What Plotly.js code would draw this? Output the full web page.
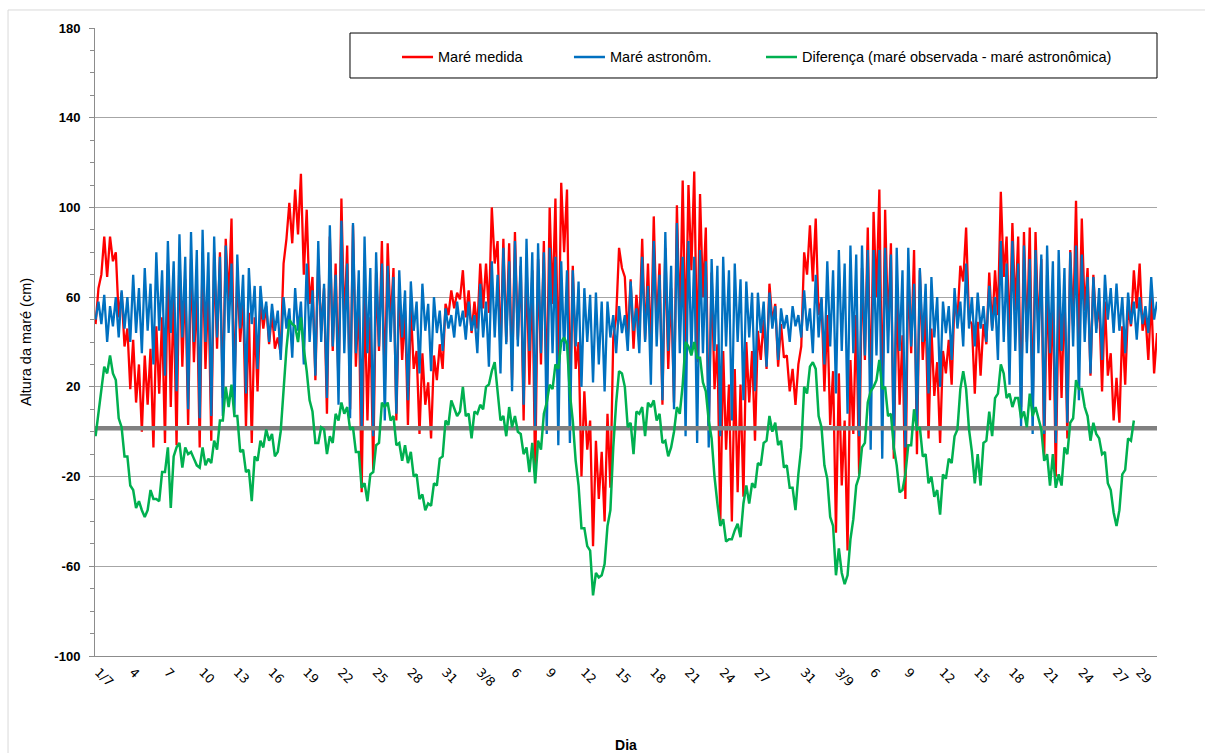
<!DOCTYPE html>
<html><head><meta charset="utf-8">
<script src="https://cdn.plot.ly/plotly-3.0.1.min.js"></script>
<style>html,body{margin:0;padding:0;background:#fff}#chart{width:1205px;height:753px}</style>
</head><body><div id="chart"></div>
<script>
// time base: days since 1/7 00:00, one reading every 6 hours
const seriesStartDay = -0.25;
const seriesStepDays = 0.25;

// Maré medida (cm)
const measuredTide = [48,
64,70,87,69, 87,76,80,51, 62,38,46,19, 41,13,30,0, 34,12,37,-7,
47,17,51,-5, 75,11,62,-6, 80,29,68,3, 77,31,63,-7, 80,28,65,-4,
80,37,80,15, 86,58,95,18, 72,40,59,2, 53,-5,51,18, 58,46,56,39,
53,37,42,35, 75,86,102,84, 108,88,115,70, 99,57,69,23, 77,45,64,8,
87,36,75,20, 104,46,83,10, 92,29,60,-27, 61,5,51,-17, 71,36,85,19,
84,48,73,5, 64,32,54,3, 55,28,36,-1, 35,12,22,-3, 34,23,39,28,
57,52,63,55, 62,59,72,51, 63,44,58,46, 75,55,75,53, 100,75,85,34,
86,40,84,23, 89,41,74,5, 76,21,72,-21, 77,30,85,15, 100,57,104,25,
111,80,108,15, 74,28,40,-20, 18,-8,5,-51, -4,-30,-9,-40, 8,-25,42,51,
82,73,69,41, 68,37,61,46, 86,41,75,35, 96,46,75,12, 82,28,64,13,
101,46,112,39, 110,72,116,31, 106,60,91,1, 71,19,39,-41, 36,-8,21,-40,
28,-27,21,-29, 40,13,36,-4, 45,32,50,28, 66,49,57,29, 48,33,34,18,
28,12,30,38, 80,70,92,67, 95,52,59,18, 52,3,27,-45, 26,-24,5,-53,
32,-1,52,-19, 73,32,91,13, 98,60,108,10, 99,45,84,-12, 64,12,43,-30,
73,35,81,-10, 72,32,53,-3, 46,16,31,-5, 36,26,41,21, 59,50,74,67,
91,50,48,17, 49,25,48,39, 71,46,72,52, 107,69,87,41, 93,54,87,11,
89,40,91,9, 89,44,77,-11, 70,14,63,-20, 59,15,63,-3, 81,47,103,36,
95,54,73,25, 70,46,58,18, 58,25,35,5, 24,4,47,21, 56,47,72,55,
75,45,52,32, 60,26,44];

// Maré astronômica (cm)
const astronomicalTide = [50,
58,48,61,40, 56,47,60,42, 63,46,60,40, 70,44,64,35, 73,45,66,30,
80,45,72,25, 85,44,76,18, 88,42,78,10, 89,40,81,6, 90,40,80,7,
87,42,78,7, 83,44,75,8, 79,46,70,17, 73,48,65,28, 65,50,58,40,
57,45,54,32, 60,46,55,33, 64,45,58,30, 75,40,63,25, 85,40,66,15,
92,38,70,12, 94,35,75,6, 93,35,72,1, 87,35,73,-2, 80,38,75,5,
74,40,69,8, 72,42,63,14, 67,45,58,26, 66,45,57,27, 60,44,54,36,
55,46,52,42, 58,47,54,41, 58,45,52,35, 66,42,58,29, 76,42,70,26,
82,39,76,18, 85,38,78,12, 86,36,80,2, 84,35,80,-1, 82,35,78,-6,
76,36,72,-5, 72,38,67,20, 64,40,61,22, 62,30,58,18, 58,42,52,35,
56,44,52,36, 67,45,55,35, 78,40,65,21, 85,38,70,14, 89,36,74,10,
93,35,78,-2, 85,35,78,-5, 81,35,76,-7, 77,36,74,-2, 78,38,72,5,
75,40,68,14, 67,42,62,18, 62,44,58,29, 62,46,56,32, 55,46,52,40,
56,47,52,42, 63,45,55,35, 70,42,60,30, 76,38,72,17, 81,36,75,8,
83,35,79,-2, 83,34,81,-8, 81,34,81,-12, 82,35,79,-8, 82,36,72,-7,
82,38,66,2, 73,40,66,17, 69,42,60,20, 58,44,56,32, 64,46,58,38,
75,46,60,38, 62,46,56,40, 65,45,60,32, 85,40,75,21, 85,36,75,2,
83,35,77,-1, 81,35,79,-1, 83,35,76,-5, 81,36,73,4, 80,38,83,14,
79,40,69,26, 69,44,64,32, 70,50,64,44, 66,45,60,35, 62,48,58,41,
60,48,56,44, 69,50,58];

// Diferença (maré observada - maré astronômica) (cm)
const tideDifference = [-2,
9,19,29,26, 34,26,23,6, 2,-11,-11,-24, -26,-34,-31,-35, -38,-35,-26,-30,
-30,-31,-18,-18, -7,-34,-11,-7, -5,-16,-7,-10, -9,-12,-15,-16, -7,-15,-12,-14,
-4,-8,5,5, 20,11,21,7, 7,-9,-8,-18, -17,-31,-11,-13, -4,-7,1,-4,
-1,-11,-9,0, 18,37,50,48, 47,40,51,37, 27,14,9,-5, -5,2,1,-10,
-2,-5,8,5, 13,8,11,1, 2,-9,-9,-25, -23,-31,-19,-18, -6,-5,13,11,
13,5,7,-6, -5,-13,-6,-14, -9,-20,-19,-30, -28,-35,-32,-33, -23,-24,-12,-11,
5,3,14,10, 7,9,20,7, 8,-3,9,8, 12,10,20,21, 27,31,18,5,
7,-2,11,2, 7,0,-1,-10, -7,-18,-5,-23, -4,-8,8,13, 21,19,30,28,
40,42,39,17, 5,-13,-24,-43, -43,-51,-53,-73, -63,-65,-64,-59, -42,-35,-7,13,
27,26,20,2, 4,-10,9,8, 11,-2,13,11, 14,5,8,-5, -4,-11,-7,0,
11,8,21,40, 38,34,40,33, 33,22,18,5, -3,-20,-32,-42, -39,-49,-48,-48,
-44,-41,-47,-32, -24,-32,-23,-25, -14,-15,-5,-4, 7,0,4,-6, -4,-16,-15,-25,
-25,-35,-19,-7, 20,17,29,31, 28,7,2,-15, -21,-38,-42,-64, -52,-63,-68,-64,
-48,-39,-24,-20, -7,-5,13,18, 20,23,32,19, 20,7,8,-7, -15,-27,-26,-19,
-6,-6,10,1, 2,-11,-10,-23, -20,-29,-26,-37, -19,-21,-12,-14, -2,1,19,27,
19,1,-9,-23, -10,-24,-5,-4, 9,-2,15,17, 30,26,15,17, 11,15,15,6,
9,2,17,7, 11,6,1,-13, -10,-24,-10,-25, -19,-24,-7,-10, 4,6,23,19,
19,11,7,-4, 4,-1,-3,-10, -9,-23,-26,-36, -42,-35,-19,-17, -3,-4,5];

const referenceLevel = 1.5;
const xRangeDays = [-0.3, 91.5];

const xTickDays = [0,3,6,9,12,15,18,21,24,27,30,33,36,39,42,45,48,51,54,57,61,64,67,70,73,76,79,82,85,88,90];
const xTickLabels = ['1/7','4','7','10','13','16','19','22','25','28','31','3/8','6','9','12','15','18','21','24','27','31','3/9','6','9','12','15','18','21','24','27','29'];
const yTickValues = [-100,-60,-20,20,60,100,140,180];
const yTickLabels = ['-100','-60','-20','20','60','100','140','180'];
const seriesNames = ['Maré medida','Maré astronôm.','Diferença (maré observada - maré astronômica)'];
const seriesColors = ['#FF0000','#0070C0','#00B050'];

const timesFor = arr => arr.map((_, i) => seriesStartDay + i * seriesStepDays);

const traces = [
  {x: timesFor(measuredTide), y: measuredTide, type:'scatter', mode:'lines', name: seriesNames[0],
   line:{color: seriesColors[0], width:2.3}, showlegend:false, hoverinfo:'skip'},
  {x: timesFor(astronomicalTide), y: astronomicalTide, type:'scatter', mode:'lines', name: seriesNames[1],
   line:{color: seriesColors[1], width:2.3}, showlegend:false, hoverinfo:'skip'},
  {x: xRangeDays, y: [referenceLevel, referenceLevel], type:'scatter', mode:'lines',
   line:{color:'#808080', width:4.5}, showlegend:false, hoverinfo:'skip'},
  {x: timesFor(tideDifference), y: tideDifference, type:'scatter', mode:'lines', name: seriesNames[2],
   line:{color: seriesColors[2], width:2.5}, showlegend:false, hoverinfo:'skip'}
];

// legend box (drawn as shapes + text), positions in paper units
const legendItems = [
  {x0:0.2891, x1:0.3183, tx:0.3210},
  {x0:0.4510, x1:0.4802, tx:0.4829},
  {x0:0.6318, x1:0.6610, tx:0.6637}
];
const legendY = 0.9538;
const shapes = [
  {type:'rect', xref:'paper', yref:'paper', x0:-0.0819, x1:1.08, y0:-0.2, y1:1.0287,
   line:{color:'#d9d9d9', width:1}, fillcolor:'rgba(0,0,0,0)', layer:'below'},
  {type:'rect', xref:'paper', yref:'paper', x0:0.2401, x1:1.0, y0:0.9204, y1:0.9920,
   line:{color:'#000000', width:1}, fillcolor:'#ffffff', layer:'above'}
];
const annotations = [];
legendItems.forEach((it, i) => {
  shapes.push({type:'line', xref:'paper', yref:'paper', x0:it.x0, x1:it.x1, y0:legendY, y1:legendY,
    line:{color: seriesColors[i], width:2.5}, layer:'above'});
  annotations.push({xref:'paper', yref:'paper', x:it.tx, y:legendY, xanchor:'left', yanchor:'middle',
    text: seriesNames[i], showarrow:false, font:{family:'Liberation Sans, Arial, sans-serif', size:14.5, color:'#000'}});
});

const layout = {
  width:1205, height:753,
  margin:{l:95, r:48, t:28, b:97},
  paper_bgcolor:'#ffffff', plot_bgcolor:'#ffffff',
  font:{family:'Liberation Sans, Arial, sans-serif', color:'#000'},
  showlegend:false,
  xaxis:{
    range: xRangeDays, showgrid:false, zeroline:false,
    showline:true, linecolor:'#8c8c8c', linewidth:1,
    tickmode:'array', tickvals: xTickDays, ticktext: xTickLabels,
    ticks:'', tickangle:45, ticklabelstandoff:3,
    tickfont:{family:'DejaVu Sans, Verdana, sans-serif', size:12.5, color:'#000'},
    title:{text:'Dia', standoff:52, font:{family:'Liberation Sans, Arial, sans-serif', size:14, weight:'bold', color:'#000'}}
  },
  yaxis:{
    range:[-100,180], zeroline:false,
    showgrid:true, gridcolor:'#a6a6a6', gridwidth:1,
    showline:true, linecolor:'#8c8c8c', linewidth:1,
    tickmode:'array', tickvals: yTickValues, ticktext: yTickLabels,
    ticks:'outside', ticklen:5, tickcolor:'#8c8c8c', ticklabelstandoff:6,
    minor:{ticks:'outside', tickmode:'linear', tick0:-100, dtick:10, ticklen:4, tickcolor:'#8c8c8c', showgrid:false},
    tickfont:{family:'Liberation Sans, Arial, sans-serif', size:13, weight:'bold', color:'#000'},
    title:{text:'Altura da maré (cm)', standoff:19, font:{family:'Liberation Sans, Arial, sans-serif', size:14.5, color:'#000'}}
  },
  shapes: shapes,
  annotations: annotations
};

Plotly.newPlot('chart', traces, layout, {displayModeBar:false, staticPlot:true});
</script>
</body></html>
